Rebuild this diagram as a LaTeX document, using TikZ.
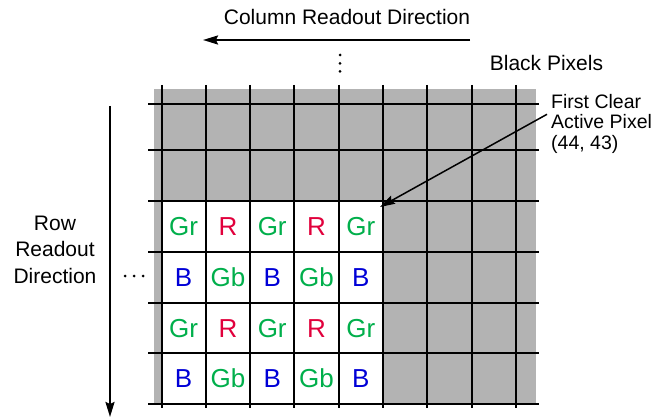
\documentclass[tikz,border=0pt]{standalone}
\usepackage{fontspec}
\setmainfont{Liberation Sans}
\usetikzlibrary{arrows.meta}

\definecolor{pixgreen}{RGB}{0,175,75}
\definecolor{pixred}{RGB}{225,0,60}
\definecolor{pixblue}{RGB}{0,0,215}
\definecolor{pixgray}{RGB}{179,179,179}

\tikzset{
  labeltext/.style={font=\fontsize{21}{26.5}\selectfont, inner sep=0pt},
  pixel/.style={font=\fontsize{26}{26}\selectfont, inner sep=0pt, anchor=base},
  readout/.style={line width=2pt, -{Stealth[length=15pt,width=9pt,inset=2pt]}},
  pointer/.style={line width=1.5pt, -{Stealth[length=15pt,width=9pt,inset=2pt]}},
}

\begin{document}
\begin{tikzpicture}[x=1pt,y=-1pt]
  \useasboundingbox (0,0) rectangle (654,417);
  % black pixels, clear region
  \fill[pixgray] (154,89) rectangle (536,404);
  \fill[white] (161.5,201) rectangle (383,404);
  \foreach \x in {0,...,8}
    \draw[line width=2pt] (161.5+44.3*\x,85) -- (161.5+44.3*\x,408);
  \foreach \y in {104,150,201,252,303,353,404}
    \draw[line width=2pt] (148,\y) -- (539,\y);

  % colour filter pattern
  \foreach \r/\y in {1/236,3/337}
    \foreach \c/\txt/\col in {0/Gr/pixgreen,1/R/pixred,2/Gr/pixgreen,3/R/pixred,4/Gr/pixgreen}
      \node[pixel,text=\col] (px\r\c) at (183.6+44.3*\c,\y) {\txt};
  \foreach \r/\y in {2/286.5,4/387}
    \foreach \c/\txt/\col in {0/B/pixblue,1/Gb/pixgreen,2/B/pixblue,3/Gb/pixgreen,4/B/pixblue}
      \node[pixel,text=\col] (px\r\c) at (183.6+44.3*\c,\y) {\txt};

  % labels
  \node[labeltext,anchor=base] (colhead) at (347,25) {Column Readout Direction};
  \node[labeltext,anchor=base] (blackpx) at (546.5,70.7) {Black Pixels};
  \node[labeltext,anchor=north west,align=left,font=\fontsize{19.5}{20.5}\selectfont]
    (firstpx) at (551,94) {First Clear\\Active Pixel\\(44, 43)};
  \node[labeltext,anchor=north,align=center] (rowhead) at (55,215.5) {Row\\Readout\\Direction};

  % readout arrows
  \draw[readout] (470,40) -- (203,40);
  \draw[readout] (110,106) -- (110,417);
  \coordinate (firstclear) at (380,207);
  \draw[pointer] ([shift={(-4pt,9.5pt)}]firstpx.west) -- (firstclear);

  % continuation dots
  \foreach \y in {55,63.3,71.3}
    \fill (340,\y) circle (1.5);
  \foreach \x in {125,134,143}
    \fill (\x,276) circle (1.5);
\end{tikzpicture}
\end{document}
